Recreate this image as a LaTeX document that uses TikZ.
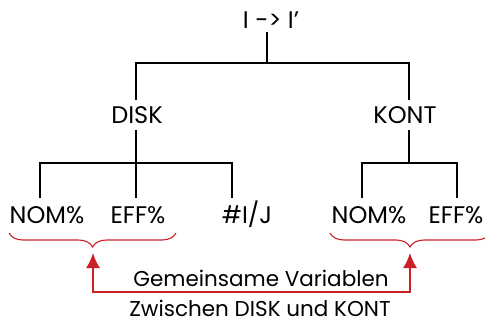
\documentclass[tikz,border=0pt]{standalone}
\usepackage{fontspec}
\setmainfont{Poppins}
\usepackage{tikz}
\usetikzlibrary{calc, arrows.meta, decorations.pathreplacing}

\definecolor{sharedred}{RGB}{204,32,39}

\begin{document}
\begin{tikzpicture}[x=1pt, y=-1pt,
    every node/.style={font=\fontsize{24}{28}\selectfont, inner sep=0pt, anchor=base},
    notetext/.style={font=\fontsize{21.5}{26}\selectfont},
    treeline/.style={line width=1.6pt, black},
    sharedline/.style={line width=1.6pt, sharedred},
    bracedeco/.style={line width=1.1pt, sharedred, decorate,
      decoration={brace, mirror, amplitude=14pt}}]
  \useasboundingbox (0,0) rectangle (485,322);
  \clip (0,0) rectangle (485,322);

  % knoten
  \node (rate) at (271,28) {I -> I’};
  \node (disk) at (137,123) {DISK};
  \node (kont) at (405,123) {KONT};
  \node (nomL) at (47,223) {NOM\%};
  \node (effL) at (138,223) {EFF\%};
  \node (nij) at (247,223) {\#I/J};
  \node (nomR) at (369,223) {NOM\%};
  \node (effR) at (456,223) {EFF\%};

  % baum oben
  \coordinate (jTop) at (267,63);
  \draw[treeline] (267,32) -- (jTop);
  \draw[treeline] (jTop) -| (136,100);
  \draw[treeline] (jTop) -| (409,100);

  % baum DISK
  \coordinate (jDisk) at (136,163);
  \draw[treeline] (136,130) -- (jDisk);
  \draw[treeline] (40,198) |- (jDisk) -- (136,198);
  \draw[treeline] (jDisk) -| (232,198);

  % baum KONT
  \coordinate (jKont) at (409,163);
  \draw[treeline] (409,130) -- (jKont);
  \draw[treeline] (362,198) |- (jKont) -| (457,198);

  % klammern
  \draw[bracedeco] (9,233) -- (176,233);
  \draw[bracedeco] (330,233) -- (490,233);

  % pfeile
  \coordinate (tipL) at (93,253);
  \coordinate (tipR) at (410,253);
  \draw[sharedline, {Latex[length=15pt,width=14pt]}-{Latex[length=15pt,width=14pt]}]
    (tipL) -- ++(0,39) -| (tipR);

  % text unten
  \node[notetext] (gem) at (261,286) {Gemeinsame Variablen};
  \node[notetext] (zw) at (260,316) {Zwischen DISK und KONT};
\end{tikzpicture}
\end{document}
